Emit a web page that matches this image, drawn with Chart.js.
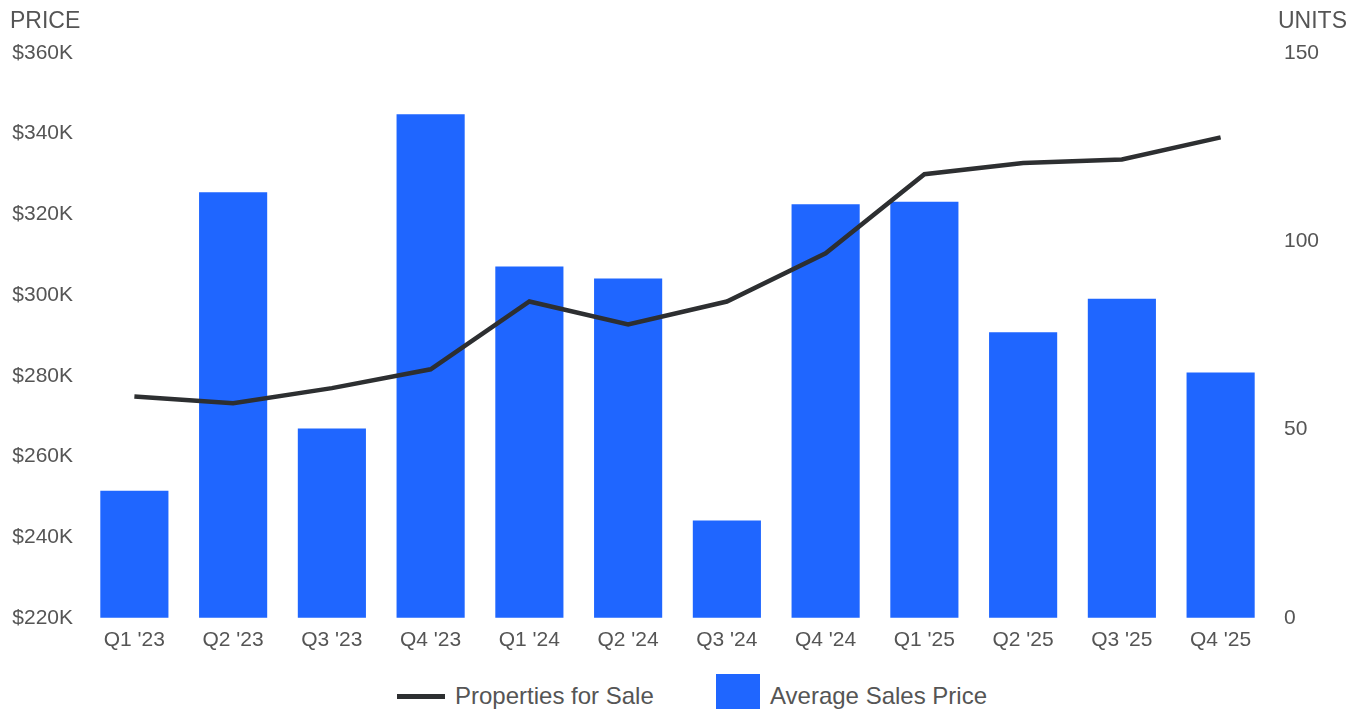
<!DOCTYPE html>
<html>
<head>
<meta charset="utf-8">
<script src="https://cdn.jsdelivr.net/npm/chart.js@4.4.1/dist/chart.umd.min.js"></script>
<style>
    body { margin: 0; background: #fff; overflow: hidden; font-family: "Liberation Sans", Arial, sans-serif; }
    #wrap { position: relative; width: 1362px; height: 671px; }
    #legend { position: absolute; top: 674px; left: 0; width: 1362px; height: 44px; font-size: 24px; color: #555; }
    .item { position: absolute; top: 0; height: 44px; display: flex; align-items: center; white-space: nowrap; }
    .line-mark { width: 48px; height: 5px; background: #2d2f31; margin-right: 10px; }
    .box-mark { width: 44px; height: 44px; background: #1f66ff; margin-right: 10px; }
</style>
</head>
<body>
<div id="wrap"><canvas id="chart"></canvas></div>
<div id="legend">
    <div class="item" style="left:397px"><span class="line-mark"></span>Properties for Sale</div>
    <div class="item" style="left:716px"><span class="box-mark"></span>Average Sales Price</div>
</div>
<script>
const quarters = ["Q1 '23", "Q2 '23", "Q3 '23", "Q4 '23", "Q1 '24", "Q2 '24", "Q3 '24", "Q4 '24", "Q1 '25", "Q2 '25", "Q3 '25", "Q4 '25"];
const avgPrice = [251500, 325500, 266900, 344800, 307100, 304100, 244100, 322500, 323100, 290800, 299100, 280800];
const forSale = [58.8, 57.0, 61.0, 66.0, 84.0, 77.9, 84.0, 96.8, 117.8, 120.8, 121.7, 127.6];

const priceMin = 220000, priceMax = 360000, priceStep = 20000;
const unitMin = 0, unitMax = 150, unitStep = 50;

const tickFont = { family: '"Liberation Sans", Arial, sans-serif', size: 21 };
const textColor = '#555';

// axis captions sit above the top tick of each scale
const axisCaptions = {
    id: 'axisCaptions',
    afterDraw(chart) {
        const ctx = chart.ctx;
        const right = chart.scales.yUnits;
        ctx.save();
        ctx.font = '23px "Liberation Sans", Arial, sans-serif';
        ctx.fillStyle = textColor;
        ctx.textBaseline = 'middle';
        ctx.textAlign = 'left';
        ctx.fillText('PRICE', 10, 22);
        ctx.fillText('UNITS', right.left + 8, 22);
        ctx.restore();
    }
};

new Chart(document.getElementById('chart'), {
    data: {
        labels: quarters,
        datasets: [
            {
                type: 'line',
                label: 'Properties for Sale',
                data: forSale,
                yAxisID: 'yUnits',
                borderColor: '#2d2f31',
                backgroundColor: '#2d2f31',
                borderWidth: 4.5,
                pointRadius: 0,
                tension: 0,
                order: 0
            },
            {
                type: 'bar',
                label: 'Average Sales Price',
                data: avgPrice,
                yAxisID: 'yPrice',
                backgroundColor: '#1f66ff',
                borderWidth: 0,
                barPercentage: 0.69,
                categoryPercentage: 1,
                order: 1
            }
        ]
    },
    options: {
        responsive: true,
        maintainAspectRatio: false,
        animation: false,
        layout: { padding: { top: 53, left: 10, right: 20, bottom: 8 } },
        plugins: {
            legend: { display: false },
            tooltip: { enabled: false }
        },
        scales: {
            x: {
                grid: { display: false, drawTicks: false },
                border: { display: false },
                ticks: { font: tickFont, color: textColor, padding: 10, maxRotation: 0 }
            },
            yPrice: {
                position: 'left',
                min: priceMin,
                max: priceMax,
                grid: { display: false, drawTicks: false },
                border: { display: false },
                afterFit: s => { s.width = 75; },
                ticks: {
                    stepSize: priceStep,
                    font: tickFont,
                    color: textColor,
                    padding: 12,
                    callback: v => '$' + (v / 1000) + 'K'
                }
            },
            yUnits: {
                position: 'right',
                min: unitMin,
                max: unitMax,
                grid: { display: false, drawTicks: false },
                border: { display: false },
                afterFit: s => { s.width = 72; },
                ticks: { stepSize: unitStep, font: tickFont, color: textColor, padding: 14 }
            }
        }
    },
    plugins: [axisCaptions]
});
</script>
</body>
</html>
